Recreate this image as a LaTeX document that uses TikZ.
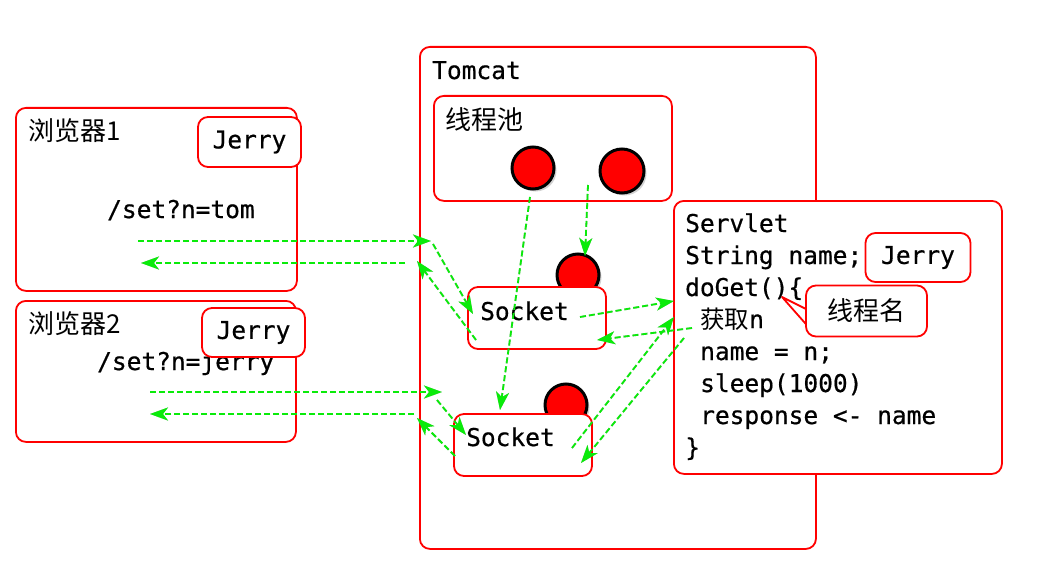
\documentclass[tikz,border=0pt]{standalone}
\usepackage{fontspec}
\newfontfamily\codefont{DejaVu Sans Mono}[FakeBold=0.6]
\newfontfamily\cjk{Noto Sans CJK SC}
\usetikzlibrary{arrows.meta,shadows}
\definecolor{boxred}{RGB}{255,0,0}
\definecolor{arrgreen}{RGB}{10,235,10}
\tikzset{
 frame/.style={draw=boxred, line width=1.8pt, rounded corners=10pt, inner sep=0pt, anchor=north west},
 box/.style={frame, fill=white},
 code/.style={font=\codefont\fontsize{24.5}{30}\selectfont, inner sep=0pt, anchor=base west},
 cn/.style={font=\cjk\fontsize{26}{30}\selectfont, inner sep=0pt, anchor=west},
 jbox/.style={draw=boxred, line width=1.8pt, rounded corners=10pt, fill=white, inner sep=0pt, anchor=center,
   font=\codefont\fontsize{24.5}{30}\selectfont},
 ball/.style={circle, draw=black, line width=3pt, fill=red, minimum size=42pt, inner sep=0pt,
   drop shadow={shadow xshift=2.5pt, shadow yshift=-2.5pt, opacity=0.35}},
 flowbase/.style={line width=1.8pt, dash pattern=on 6pt off 3pt,
   -{Stealth[length=18pt,width=13pt,inset=5pt]}},
 flow/.style={flowbase, draw=arrgreen},
 flowshadow/.style={flowbase, draw=black!75, opacity=0.35},
}
\begin{document}
\begin{tikzpicture}[x=1pt,y=-1pt]
\useasboundingbox[fill=white] (0,0) rectangle (1038,583);
% Tomcat
\node[frame, minimum width=396pt, minimum height=502pt] (tomcat) at (419,46) {};
\node[code, anchor=base west] (tomcatlbl) at (432,79) {Tomcat};
% Browser 1
\node[frame, minimum width=281pt, minimum height=183pt] (br1) at (15,107) {};
\node[cn] (br1lbl) at (28,131) {浏览器1};
\node[code] (req1) at (107,218) {/set?n=tom};
\node[jbox, minimum width=103pt, minimum height=50pt] (j1) at (249.5,142) {Jerry};
% Browser 2
\node[frame, minimum width=280pt, minimum height=141pt] (br2) at (15,300) {};
\node[cn] (br2lbl) at (28,324) {浏览器2};
\node[code] (req2) at (97,370) {/set?n=jerry};
\node[jbox, minimum width=103pt, minimum height=49pt] (j2) at (253.5,332.5) {Jerry};
% Thread pool
\node[frame, minimum width=238pt, minimum height=105pt] (pool) at (433,95) {};
\node[cn] (poollbl) at (445,120) {线程池};
\node[ball] (t1) at (533,168) {};
\node[ball, minimum size=44pt] (t2) at (622,171) {};
% Sockets
\node[ball] (t3) at (578,275) {};
\node[ball] (t4) at (566,405) {};
\node[box, anchor=center, minimum width=138pt, minimum height=62pt] (sock1) at (537,318) {};
\node[code] (sock1lbl) at (480,320) {Socket};
\node[box, anchor=center, minimum width=138pt, minimum height=62pt] (sock2) at (523,445) {};
\node[code] (sock2lbl) at (466,446) {Socket};
% Servlet
\node[box, minimum width=328pt, minimum height=273pt] (servlet) at (673,200) {};
\node[code] (s1) at (685,232) {Servlet};
\node[code] (s2) at (685,264) {String name;};
\node[code] (s3) at (685,296) {doGet()\{};
\node[code] (s4) at (700,328) {{\cjk 获取}n};
\node[code] (s5) at (700,360) {name = n;};
\node[code] (s6) at (700,392) {sleep(1000)};
\node[code] (s7) at (700,424) {response <- name};
\node[code] (s8) at (685,456) {\}};
\node[jbox, minimum width=105pt, minimum height=49pt] (j3) at (918,257.5) {Jerry};
% Callout
\coordinate (tip) at (782,297);
\draw[draw=boxred, line width=1.8pt, fill=white, line join=round] (tip) -- (812,312) -- (812,331) -- cycle;
\node[jbox, minimum width=121pt, minimum height=51pt, font=\cjk\fontsize{26}{30}\selectfont] (callout) at (866.5,311) {线程名};
% Arrows
\coordinate (a1s) at (138,241); \coordinate (a1e) at (431,241);
\coordinate (a2s) at (433,244); \coordinate (a2e) at (473,314);
\coordinate (a3s) at (476,340); \coordinate (a3e) at (417,261);
\coordinate (a4s) at (405,263); \coordinate (a4e) at (141,263);
\coordinate (b1s) at (150,392); \coordinate (b1e) at (442,392);
\coordinate (b2s) at (437,400); \coordinate (b2e) at (466,435);
\coordinate (b3s) at (455,456); \coordinate (b3e) at (417,418);
\coordinate (b4s) at (414,414); \coordinate (b4e) at (150,414);
\coordinate (p1s) at (530,197); \coordinate (p1e) at (500,410);
\coordinate (p2s) at (588,185); \coordinate (p2e) at (585,256);
\coordinate (c1s) at (580,317); \coordinate (c1e) at (674,301);
\coordinate (c2s) at (692,328); \coordinate (c2e) at (597,340);
\coordinate (c3s) at (572,448); \coordinate (c3e) at (674,317);
\coordinate (c4s) at (684,338); \coordinate (c4e) at (581,463);
\foreach \p in {a1,a2,a3,a4,b1,b2,b3,b4,p1,p2,c1,c2,c3,c4}{
  \draw[flowshadow, shift={(1.5,2.5)}] (\p s) -- (\p e);
}
\foreach \p in {a1,a2,a3,a4,b1,b2,b3,b4,p1,p2,c1,c2,c3,c4}{
  \draw[flow] (\p s) -- (\p e);
}
\end{tikzpicture}
\end{document}
